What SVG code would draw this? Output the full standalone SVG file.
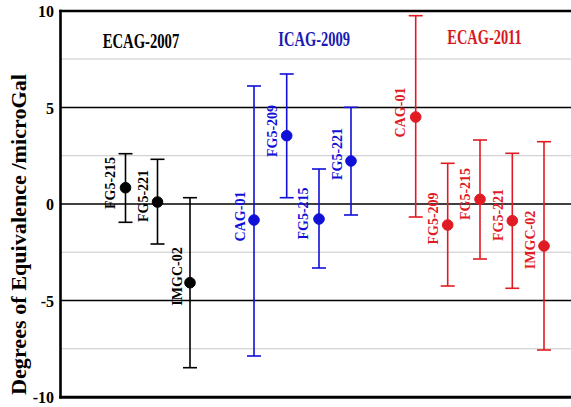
<svg xmlns="http://www.w3.org/2000/svg" width="571" height="407" viewBox="0 0 571 407">
<style>
text{font-family:"Liberation Serif","Times New Roman",serif;font-weight:bold}
.tick{font-size:16px;text-anchor:end;fill:#000}
.lab{font-size:14px;text-anchor:middle}
.title{font-size:22px;text-anchor:middle}
.grid{stroke:#000;stroke-width:1.5}
.lgrid{stroke:#c8c8c8;stroke-width:1}
.k{stroke:#000;fill:#000}
.b{stroke:#1010d8;fill:#1010d8}
.r{stroke:#e01b24;fill:#e01b24}
.bar line{stroke-width:1.6}
.bar circle{stroke:none}
</style>
<rect width="571" height="407" fill="#fff"/>
<g id="grid">
<line class="lgrid" x1="60" y1="59" x2="571" y2="59"/>
<line class="lgrid" x1="60" y1="155.7" x2="571" y2="155.7"/>
<line class="lgrid" x1="60" y1="252.2" x2="571" y2="252.2"/>
<line class="lgrid" x1="60" y1="348.8" x2="571" y2="348.8"/>
<line class="grid" x1="60" y1="107.5" x2="571" y2="107.5"/>
<line class="grid" x1="60" y1="204" x2="571" y2="204"/>
<line class="grid" x1="60" y1="300.5" x2="571" y2="300.5"/>
</g>
<g id="axes" stroke="#000" fill="none">
<line x1="60.5" y1="9.8" x2="60.5" y2="398.5" stroke-width="2.6"/>
<line x1="59.2" y1="11" x2="571" y2="11" stroke-width="2.6"/>
<line x1="59.2" y1="397.2" x2="571" y2="397.2" stroke-width="3"/>
</g>
<g id="ticks">
<text class="tick" x="54" y="17">10</text>
<text class="tick" x="54" y="113.5">5</text>
<text class="tick" x="54" y="210">0</text>
<text class="tick" x="54" y="306.5">-5</text>
<text class="tick" x="54" y="403">-10</text>
</g>
<text id="ylabel" transform="translate(26,234.5) rotate(-90)" font-size="22" text-anchor="middle" textLength="321" lengthAdjust="spacingAndGlyphs">Degrees of Equivalence /microGal</text>
<g id="titles">
<text class="title" x="141" y="48.3" fill="#000" textLength="76.6" lengthAdjust="spacingAndGlyphs">ECAG-2007</text>
<text class="title" x="314.2" y="46" fill="#1a1ab4" textLength="71.7" lengthAdjust="spacingAndGlyphs">ICAG-2009</text>
<text class="title" x="484.5" y="44" fill="#d81820" textLength="74.4" lengthAdjust="spacingAndGlyphs">ECAG-2011</text>
</g>
<g id="connectors">
<g class="bar k"><line x1="125.5" y1="153.7" x2="125.5" y2="222.3"/><line x1="118.5" y1="153.7" x2="132.5" y2="153.7"/><line x1="118.5" y1="222.3" x2="132.5" y2="222.3"/></g>
<g class="bar k"><line x1="157.5" y1="159.3" x2="157.5" y2="244"/><line x1="150.5" y1="159.3" x2="164.5" y2="159.3"/><line x1="150.5" y1="244" x2="164.5" y2="244"/></g>
<g class="bar k"><line x1="190" y1="197.7" x2="190" y2="367.7"/><line x1="183" y1="197.7" x2="197" y2="197.7"/><line x1="183" y1="367.7" x2="197" y2="367.7"/></g>
<g class="bar b"><line x1="254" y1="86" x2="254" y2="356"/><line x1="247" y1="86" x2="261" y2="86"/><line x1="247" y1="356" x2="261" y2="356"/></g>
<g class="bar b"><line x1="286.7" y1="74" x2="286.7" y2="197.7"/><line x1="279.7" y1="74" x2="293.7" y2="74"/><line x1="279.7" y1="197.7" x2="293.7" y2="197.7"/></g>
<g class="bar b"><line x1="319" y1="169" x2="319" y2="268"/><line x1="312" y1="169" x2="326" y2="169"/><line x1="312" y1="268" x2="326" y2="268"/></g>
<g class="bar b"><line x1="351" y1="107.3" x2="351" y2="215"/><line x1="344" y1="107.3" x2="358" y2="107.3"/><line x1="344" y1="215" x2="358" y2="215"/></g>
<g class="bar r"><line x1="415.7" y1="15.7" x2="415.7" y2="217"/><line x1="408.7" y1="15.7" x2="422.7" y2="15.7"/><line x1="408.7" y1="217" x2="422.7" y2="217"/></g>
<g class="bar r"><line x1="447.7" y1="163.3" x2="447.7" y2="286"/><line x1="440.7" y1="163.3" x2="454.7" y2="163.3"/><line x1="440.7" y1="286" x2="454.7" y2="286"/></g>
<g class="bar r"><line x1="480" y1="140" x2="480" y2="259"/><line x1="473" y1="140" x2="487" y2="140"/><line x1="473" y1="259" x2="487" y2="259"/></g>
<g class="bar r"><line x1="512.3" y1="153.3" x2="512.3" y2="288.3"/><line x1="505.3" y1="153.3" x2="519.3" y2="153.3"/><line x1="505.3" y1="288.3" x2="519.3" y2="288.3"/></g>
<g class="bar r"><line x1="544" y1="141.7" x2="544" y2="350"/><line x1="537" y1="141.7" x2="551" y2="141.7"/><line x1="537" y1="350" x2="551" y2="350"/></g>
</g>
<g id="ecag2007-fg5-215" class="k"><circle cx="125.5" cy="187.7" r="5.3"/><text class="lab" transform="translate(114.7,183) rotate(-90)" stroke="none">FG5-215</text></g>
<g id="ecag2007-fg5-221" class="k"><circle cx="157.5" cy="202" r="5.3"/><text class="lab" transform="translate(147.7,196) rotate(-90)" stroke="none">FG5-221</text></g>
<g id="ecag2007-imgc-02" class="k"><circle cx="190" cy="282.7" r="5.3"/><text class="lab" transform="translate(181.7,276.5) rotate(-90)" stroke="none">IMGC-02</text></g>
<g id="icag2009-cag-01" class="b"><circle cx="254" cy="220" r="5.3"/><text class="lab" transform="translate(244.7,216.5) rotate(-90)" stroke="none">CAG-01</text></g>
<g id="icag2009-fg5-209" class="b"><circle cx="286.7" cy="135.7" r="5.3"/><text class="lab" transform="translate(276.7,131) rotate(-90)" stroke="none">FG5-209</text></g>
<g id="icag2009-fg5-215" class="b"><circle cx="319" cy="219" r="5.3"/><text class="lab" transform="translate(307.7,213.5) rotate(-90)" stroke="none">FG5-215</text></g>
<g id="icag2009-fg5-221" class="b"><circle cx="351" cy="161" r="5.3"/><text class="lab" transform="translate(341.7,154) rotate(-90)" stroke="none">FG5-221</text></g>
<g id="ecag2011-cag-01" class="r"><circle cx="415.7" cy="117" r="5.3"/><text class="lab" transform="translate(404.7,112.5) rotate(-90)" stroke="none">CAG-01</text></g>
<g id="ecag2011-fg5-209" class="r"><circle cx="447.7" cy="225" r="5.3"/><text class="lab" transform="translate(437.7,218.5) rotate(-90)" stroke="none">FG5-209</text></g>
<g id="ecag2011-fg5-215" class="r"><circle cx="480" cy="199.3" r="5.3"/><text class="lab" transform="translate(469.7,194) rotate(-90)" stroke="none">FG5-215</text></g>
<g id="ecag2011-fg5-221" class="r"><circle cx="512.3" cy="220.7" r="5.3"/><text class="lab" transform="translate(502.7,215) rotate(-90)" stroke="none">FG5-221</text></g>
<g id="ecag2011-imgc-02" class="r"><circle cx="544" cy="246" r="5.3"/><text class="lab" transform="translate(534.7,240) rotate(-90)" stroke="none">IMGC-02</text></g>
</svg>
